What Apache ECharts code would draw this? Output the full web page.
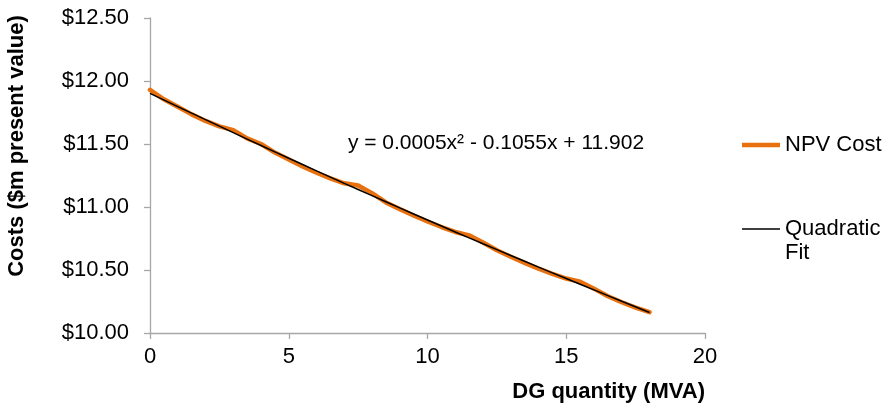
<!DOCTYPE html>
<html>
<head>
<meta charset="utf-8">
<script src="https://cdn.jsdelivr.net/npm/echarts@6/dist/echarts.min.js"></script>
<style>html,body{margin:0;padding:0;background:#fff}#c{width:887px;height:410px}</style>
</head>
<body>
<div id="c"></div>
<script>
// NPV cost by DG quantity (steps of 0.5 MVA)
const npvX = [0,0.5,1,1.5,2,2.5,3,3.5,4,4.5,5,5.5,6,6.5,7,7.5,8,8.5,9,9.5,10,10.5,11,11.5,12,12.5,13,13.5,14,14.5,15,15.5,16,16.5,17,17.5,18];
const npvCost = [11.93,11.855,11.795,11.735,11.683,11.64,11.61,11.545,11.50,11.432,11.377,11.322,11.272,11.227,11.188,11.17,11.11,11.036,10.983,10.933,10.885,10.841,10.802,10.775,10.718,10.657,10.605,10.557,10.511,10.47,10.432,10.407,10.352,10.292,10.244,10.202,10.165];
// Quadratic fit values
const fitX = [0,1,2,3,4,5,6,7,8,9,10,11,12,13,14,15,16,17,18];
const fitCost = [11.902,11.797,11.693,11.5905,11.488,11.387,11.287,11.1875,11.090,10.993,10.897,10.802,10.708,10.6155,10.523,10.432,10.342,10.2515,10.163];
const xTicks = [0,5,10,15,20];
const yTicks = [10,10.5,11,11.5,12,12.5];
const equationText = 'y = 0.0005x² - 0.1055x + 11.902';

const FONT = "'Liberation Sans', Arial, sans-serif";
const chart = echarts.init(document.getElementById('c'));
chart.setOption({
  animation: false,
  backgroundColor: '#fff',
  textStyle: {fontFamily: FONT},
  grid: {left: 150, right: 182, top: 18, bottom: 77},
  xAxis: {
    type: 'value', min: xTicks[0], max: xTicks[xTicks.length-1], interval: 5,
    axisLine: {lineStyle: {color: '#A6A6A6', width: 1.3}},
    axisTick: {show: true, length: 6, lineStyle: {color: '#A6A6A6', width: 1.3}},
    splitLine: {show: false},
    axisLabel: {fontSize: 22, color: '#000', margin: 13, fontFamily: FONT}
  },
  yAxis: {
    type: 'value', min: yTicks[0], max: yTicks[yTicks.length-1], interval: 0.5,
    axisLine: {show: true, lineStyle: {color: '#A6A6A6', width: 1.3}},
    axisTick: {show: true, length: 6, lineStyle: {color: '#A6A6A6', width: 1.3}},
    splitLine: {show: false},
    axisLabel: {fontSize: 22, color: '#000', margin: 21, fontFamily: FONT,
      formatter: v => '$' + v.toFixed(2)}
  },
  legend: [
    {data: [{name: 'NPV Cost', icon: 'path://M0,0L38,0L38,4.5L0,4.5Z'}], orient: 'vertical', left: 742, top: 134, padding: 0,
      itemWidth: 38, itemHeight: 24, itemGap: 0, symbolKeepAspect: true,
      textStyle: {fontSize: 22, color: '#000', fontFamily: FONT}},
    {data: [{name: 'Quadratic Fit', icon: 'path://M0,0L38,0L38,1.5L0,1.5Z'}], orient: 'vertical', left: 742, top: 193, padding: 0,
      itemWidth: 38, itemHeight: 24, itemGap: 0, symbolKeepAspect: true,
      formatter: () => ' \nQuadratic\nFit',
      textStyle: {fontSize: 22, color: '#000', fontFamily: FONT, lineHeight: 24}}
  ],
  graphic: [
    {type: 'text', x: 17, y: 146, rotation: Math.PI/2,
      style: {text: 'Costs ($m present value)', font: "bold 22px " + FONT, fill: '#000', align: 'center', verticalAlign: 'middle'}},
    {type: 'text', x: 705, y: 392,
      style: {text: 'DG quantity (MVA)', font: "bold 22px " + FONT, fill: '#000', align: 'right', verticalAlign: 'middle'}},
    {type: 'text', x: 496, y: 143,
      style: {text: equationText, font: "21px " + FONT, fill: '#000', align: 'center', verticalAlign: 'middle'}}
  ],
  series: [
    {name: 'NPV Cost', type: 'line', showSymbol: false, symbol: 'none',
      data: npvX.map((x, i) => [x, npvCost[i]]),
      lineStyle: {color: '#E8700E', width: 4.5, cap: 'round', join: 'round'}, itemStyle: {color: '#E8700E'}},
    {name: 'Quadratic Fit', type: 'line', showSymbol: false, symbol: 'none', smooth: true,
      data: fitX.map((x, i) => [x, fitCost[i]]),
      lineStyle: {color: '#000', width: 1.5}, itemStyle: {color: '#000'}}
  ]
});
</script>
</body>
</html>
